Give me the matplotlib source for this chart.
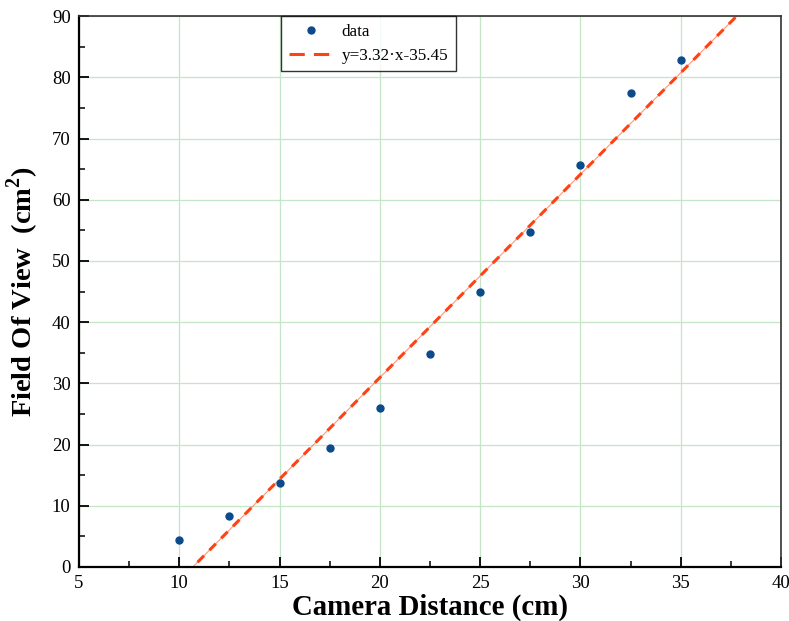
import numpy as np
import matplotlib
matplotlib.use("Agg")
import matplotlib.pyplot as plt
from matplotlib.lines import Line2D
from matplotlib.ticker import MultipleLocator

plt.rcParams['font.family'] = ['Liberation Serif', 'DejaVu Serif']
plt.rcParams['mathtext.fontset'] = 'custom'
plt.rcParams['mathtext.rm'] = 'Liberation Serif'
plt.rcParams['mathtext.bf'] = 'Liberation Serif:bold'

# Measured field of view versus camera distance
distance = [10, 12.5, 15, 17.5, 20, 22.5, 25, 27.5, 30, 32.5, 35]
fov = [4.4, 8.4, 13.7, 19.4, 26.0, 34.8, 44.9, 54.7, 65.6, 77.4, 82.8]

# Linear fit coefficients
slope = 3.32
intercept = -35.45

fig = plt.figure(figsize=(7.89, 6.21), dpi=100)
ax = fig.add_axes([0.1001, 0.087, 0.8898, 0.887])

ax.set_xlim(5, 40)
ax.set_ylim(0, 90)

ax.grid(True, which='major', color='#c6e4c6', linewidth=0.9, zorder=0)

xf = np.linspace(5, 40, 200)
yf = slope * xf + intercept
fit_color = '#ff4213'
ax.plot(xf, yf, color=fit_color, linewidth=0.8, alpha=0.55, zorder=2)
ax.plot(xf, yf, color=fit_color, linewidth=2.2, dashes=(3, 2.5), zorder=3)

ax.plot(distance, fov, 'o', color='#0b4a8b', markersize=5, zorder=4)

ax.xaxis.set_major_locator(MultipleLocator(5))
ax.xaxis.set_minor_locator(MultipleLocator(2.5))
ax.yaxis.set_major_locator(MultipleLocator(10))
ax.yaxis.set_minor_locator(MultipleLocator(5))
ax.tick_params(which='major', direction='in', length=7, width=1.3,
               labelsize=13.5, top=False, right=False, pad=6)
ax.tick_params(which='minor', direction='in', length=4, width=1.1,
               top=False, right=False)

for side in ('left', 'bottom'):
    ax.spines[side].set_linewidth(1.6)
    ax.spines[side].set_color('black')
for side in ('top', 'right'):
    ax.spines[side].set_linewidth(1.2)
    ax.spines[side].set_color('#333333')

ax.set_xlabel('Camera Distance (cm)', fontsize=20.8, fontweight='bold', labelpad=1)
ax.set_ylabel(r'Field Of View  (cm$^\mathbf{2}$)', fontsize=20.5, fontweight='bold', labelpad=8)

handles = [
    Line2D([], [], marker='o', linestyle='none', color='#0b4a8b', markersize=5),
    Line2D([], [], color=fit_color, linewidth=2.2, dashes=(5, 3)),
]
leg = ax.legend(handles, ['data', f'y={slope:.2f}·x{intercept:.2f}'],
                loc='upper left', bbox_to_anchor=(0.288, 1.0), borderaxespad=0,
                fontsize=12.3, frameon=True, fancybox=False, edgecolor='black',
                handlelength=2.6, handletextpad=0.5, borderpad=0.45,
                labelspacing=0.45)
leg.get_frame().set_linewidth(1.0)

fig.savefig('out.png', dpi=100)
